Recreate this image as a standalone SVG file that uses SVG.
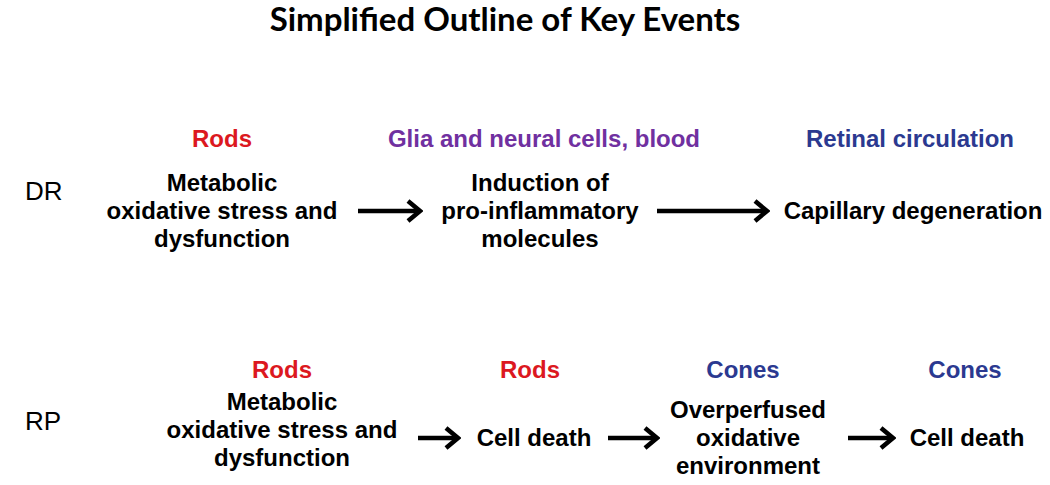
<svg xmlns="http://www.w3.org/2000/svg" width="1050" height="485" viewBox="0 0 1050 485">
<style>
.title{font-family:Lato,"Open Sans",sans-serif;font-weight:bold;font-size:33px;fill:#000;text-anchor:middle}
.row{font-family:"Liberation Sans",Arial,sans-serif;font-size:26px;fill:#000}
.t{font-family:"Liberation Sans",Arial,sans-serif;font-weight:bold;font-size:24px;fill:#000;text-anchor:middle}
.lab{font-family:"Liberation Sans",Arial,sans-serif;font-weight:bold;font-size:24px;text-anchor:middle}
.red{fill:#dc1820}.pur{fill:#7030a0}.blu{fill:#2b3990}
.arr{stroke:#000;stroke-width:4.5;fill:none}
</style>
<defs>
<marker id="ah" markerUnits="userSpaceOnUse" viewBox="0 0 18 26" refX="15" refY="13" markerWidth="18" markerHeight="26" orient="auto">
<path d="M3,3 L15,13 L3,23" stroke="#000" stroke-width="4.5" fill="none" stroke-linejoin="miter"/>
</marker>
</defs>
<rect width="1050" height="485" fill="#fff"/>
<text id="title" class="title" x="505" y="31">Simplified Outline of Key Events</text>

<g id="row-DR"><text class="row" x="25" y="200">DR</text></g>
<g id="row-RP"><text class="row" x="25" y="430">RP</text></g>

<g id="dr1">
<text class="lab red" x="222" y="147">Rods</text>
<text class="t" x="222" y="191">Metabolic</text>
<text class="t" x="222" y="219">oxidative stress and</text>
<text class="t" x="222" y="247">dysfunction</text>
</g>
<g id="dr2">
<text class="lab pur" x="544" y="147">Glia and neural cells, blood</text>
<text class="t" x="540" y="191">Induction of</text>
<text class="t" x="540" y="219">pro-inflammatory</text>
<text class="t" x="540" y="247">molecules</text>
</g>
<g id="dr3">
<text class="lab blu" x="910" y="147">Retinal circulation</text>
<text class="t" x="913" y="219">Capillary degeneration</text>
</g>

<g id="rp1">
<text class="lab red" x="282" y="378">Rods</text>
<text class="t" x="282" y="410">Metabolic</text>
<text class="t" x="282" y="438">oxidative stress and</text>
<text class="t" x="282" y="466">dysfunction</text>
</g>
<g id="rp2">
<text class="lab red" x="530" y="378">Rods</text>
<text class="t" x="534" y="446">Cell death</text>
</g>
<g id="rp3">
<text class="lab blu" x="743" y="378">Cones</text>
<text class="t" x="748" y="418">Overperfused</text>
<text class="t" x="748" y="446">oxidative</text>
<text class="t" x="748" y="474">environment</text>
</g>
<g id="rp4">
<text class="lab blu" x="965" y="378">Cones</text>
<text class="t" x="967" y="446">Cell death</text>
</g>

<g id="connectors">
<line class="arr" x1="358" y1="211" x2="420" y2="211" marker-end="url(#ah)"/>
<line class="arr" x1="657" y1="211" x2="767" y2="211" marker-end="url(#ah)"/>
<line class="arr" x1="418" y1="438" x2="458" y2="438" marker-end="url(#ah)"/>
<line class="arr" x1="608" y1="438" x2="657" y2="438" marker-end="url(#ah)"/>
<line class="arr" x1="848" y1="438" x2="893" y2="438" marker-end="url(#ah)"/>
</g>
</svg>
